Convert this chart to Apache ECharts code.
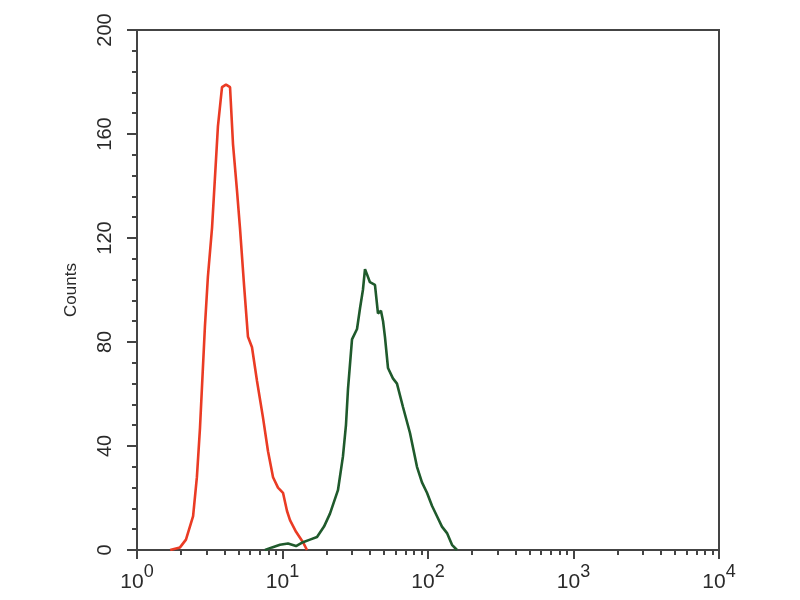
<!DOCTYPE html>
<html>
<head>
<meta charset="utf-8">
<script src="https://cdn.jsdelivr.net/npm/echarts@6/dist/echarts.min.js"></script>
<style>
  html, body { margin: 0; padding: 0; background: #fff; }
  #chart { width: 800px; height: 600px; }
</style>
</head>
<body>
<div id="chart"></div>
<script>
// fluorescence (x) / counts (y)
const redX = [1.69, 1.975, 2.17, 2.43, 2.58, 2.71, 2.93, 3.07, 3.28, 3.60, 3.84, 4.09, 4.36, 4.57, 4.87, 5.10,
    5.44, 5.79, 6.17, 6.68, 7.34, 7.95, 8.61, 9.31, 10.08, 10.74, 11.26, 12.39, 13.83, 14.73];
const redY = [0, 1, 4, 13, 28, 47, 86, 105, 124, 163, 178, 179, 178, 156, 138, 124,
    102, 82, 78, 65, 51, 38, 28, 24, 22, 15, 11.5, 7, 3, 0];

const greenX = [7.58, 8.47, 9.61, 10.91, 12.39, 13.83, 15.45, 17.27, 19.29, 21.2, 24.05, 26.03, 27.3, 28.2,
    30.04, 32.52, 34.1, 35.7, 36.9, 38.1, 39.9, 43.2, 45.3, 47.5, 49.1, 50.6, 53.1, 57.4, 61.2, 67.3,
    75.2, 84.0, 90.9, 98.4, 106.5, 115.3, 124.7, 135.1, 146.2, 158.2];
const greenY = [0, 1, 2, 2.5, 1.5, 3, 4, 5, 9, 14, 23, 36, 48, 62,
    81, 85, 93, 100, 108, 106, 103, 102, 91, 92, 88, 82, 70, 66, 64, 55,
    45, 32, 26, 22, 17, 13, 9, 6.5, 2, 0];

const xMajor = [1, 10, 100, 1000, 10000];
const xMinor = [];
for (let d = 1; d < 10000; d *= 10) {
    for (let k = 2; k <= 9; k++) xMinor.push(k * d);
}
const yTicks = [0, 40, 80, 120, 160, 200];

const FONT = "Liberation Sans";
const AXIS_COLOR = "#444";
const TEXT_COLOR = "#2a2a2a";

function pairs(xs, ys) {
    return xs.map((x, i) => [x, ys[i]]);
}

const chart = echarts.init(document.getElementById("chart"), null, { renderer: "canvas" });

chart.setOption({
    backgroundColor: "#fff",
    animation: false,
    grid: {
        left: 137, right: 81, top: 30, bottom: 50,
        show: true, borderColor: AXIS_COLOR, borderWidth: 2
    },
    xAxis: [{
        type: "log",
        logBase: 10,
        min: 1,
        max: 10000,
        splitLine: { show: false },
        axisLine: { lineStyle: { color: AXIS_COLOR, width: 2 } },
        axisTick: { customValues: xMajor, length: 9, lineStyle: { color: AXIS_COLOR, width: 2 } },
        axisLabel: {
            customValues: xMajor,
            margin: 13,
            formatter: v => "{b|10}{s|" + Math.round(Math.log10(v)) + "}",
            rich: {
                b: { fontFamily: FONT, fontSize: 21, color: TEXT_COLOR, verticalAlign: "bottom" },
                s: { fontFamily: FONT, fontSize: 18, color: TEXT_COLOR, padding: [0, 0, 12, 0] }
            }
        }
    }, {
        type: "log",
        logBase: 10,
        min: 1,
        max: 10000,
        position: "bottom",
        splitLine: { show: false },
        axisLine: { show: false },
        axisLabel: { show: false },
        axisTick: { customValues: xMinor, length: 5, lineStyle: { color: AXIS_COLOR, width: 2 } }
    }],
    yAxis: {
        type: "value",
        min: 0,
        max: 200,
        interval: 40,
        name: "Counts",
        nameLocation: "middle",
        nameRotate: 90,
        nameGap: 57,
        nameTextStyle: { fontFamily: FONT, fontSize: 17, color: TEXT_COLOR },
        splitLine: { show: false },
        axisLine: { show: true, lineStyle: { color: AXIS_COLOR, width: 2 } },
        axisTick: { show: true, length: 10, lineStyle: { color: AXIS_COLOR, width: 2 } },
        minorTick: { show: true, splitNumber: 5, length: 5, lineStyle: { color: AXIS_COLOR, width: 2 } },
        axisLabel: {
            rotate: 90,
            margin: 22,
            fontFamily: FONT,
            fontSize: 20,
            color: TEXT_COLOR,
            customValues: yTicks
        }
    },
    series: [{
        type: "line",
        data: pairs(redX, redY),
        showSymbol: false,
        lineStyle: { color: "#ea3b24", width: 2.6 }
    }, {
        type: "line",
        data: pairs(greenX, greenY),
        showSymbol: false,
        lineStyle: { color: "#1f5a2c", width: 2.6 }
    }]
});
</script>
</body>
</html>
